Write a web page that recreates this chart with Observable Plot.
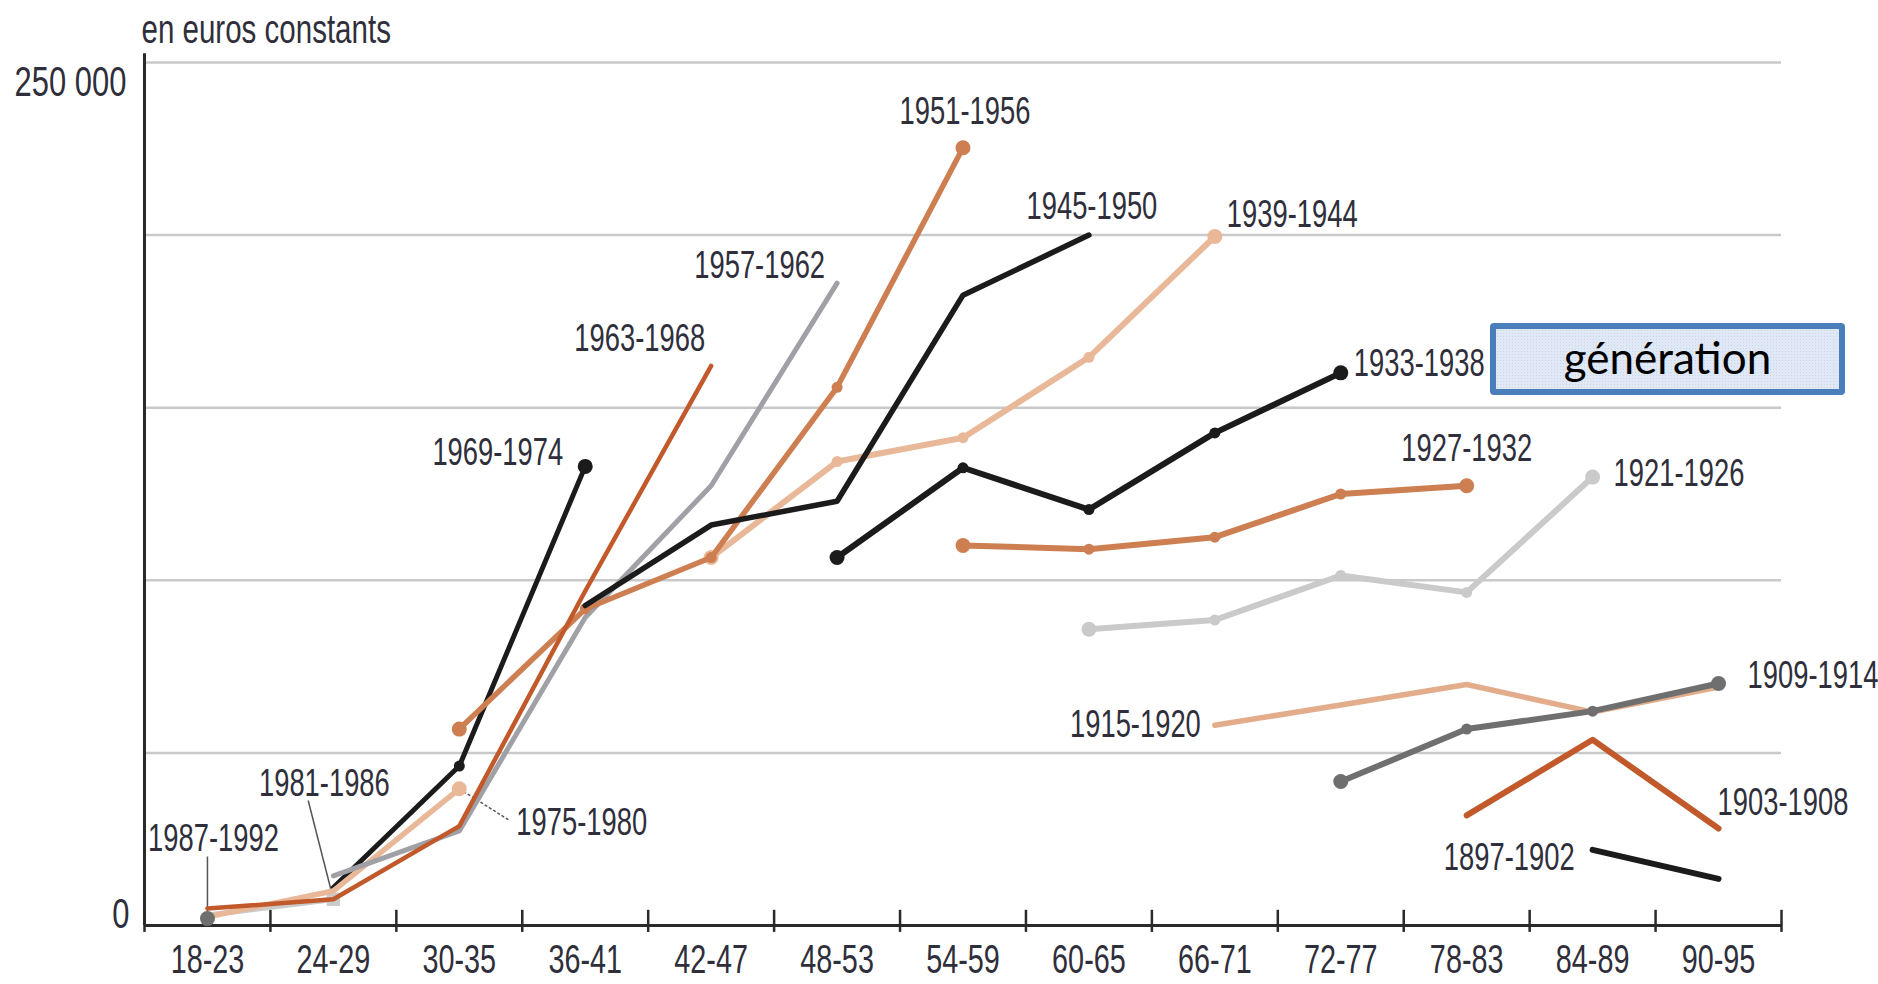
<!DOCTYPE html>
<html>
<head>
<meta charset="utf-8">
<script src="https://cdn.jsdelivr.net/npm/d3@7"></script>
<script src="https://cdn.jsdelivr.net/npm/@observablehq/plot@0.6"></script>
<style>
  html, body { margin: 0; padding: 0; background: #ffffff; }
  #wrap { position: relative; width: 1878px; height: 984px; overflow: hidden; }
  #gen {
    position: absolute; left: 1490px; top: 323px; width: 355px; height: 72px;
    box-sizing: border-box; border: 6px solid #4a7ebb; border-radius: 4px;
    background-color: #dfe8f4;
    background-image: radial-gradient(#c8d5ea 0.8px, transparent 1px);
    background-size: 3px 3px;
    font-family: Lato, "Open Sans", sans-serif; font-size: 44px; color: #000;
    display: flex; align-items: center; justify-content: center; line-height: 1;
    padding-bottom: 4px;
  }
</style>
</head>
<body>
<div id="wrap"><div id="chart"></div><div id="gen">génération</div></div>
<script>
// ---- Data ----
const _ = null;
const ages = ["18-23","24-29","30-35","36-41","42-47","48-53","54-59","60-65","66-71","72-77","78-83","84-89","90-95"];
const generations = ["1987-1992","1981-1986","1975-1980","1969-1974","1963-1968","1957-1962","1951-1956","1945-1950","1939-1944","1933-1938","1927-1932","1921-1926","1915-1920","1909-1914","1903-1908","1897-1902"];
// patrimoine moyen (euros constants), one value per age bracket
const g1987_1992 = [2000,_,_,_,_,_,_,_,_,_,_,_,_];
const g1981_1986 = [3000,7600,_,_,_,_,_,_,_,_,_,_,_];
const g1975_1980 = [2500,10000,39600,_,_,_,_,_,_,_,_,_,_];
const g1969_1974 = [_,11000,46200,133000,_,_,_,_,_,_,_,_,_];
const g1963_1968 = [4900,7600,28800,96900,162100,_,_,_,_,_,_,_,_];
const g1957_1962 = [_,14400,27400,89200,127400,186100,_,_,_,_,_,_,_];
const g1951_1956 = [_,_,56900,91700,106600,155900,225300,_,_,_,_,_,_];
const g1945_1950 = [_,_,_,92700,116000,122900,182600,200000,_,_,_,_,_];
const g1939_1944 = [_,_,_,_,106600,134400,141300,164600,199600,_,_,_,_];
const g1933_1938 = [_,_,_,_,_,106600,132600,120500,142700,160100,_,_,_];
const g1927_1932 = [_,_,_,_,_,_,110100,109000,112500,125000,127400,_,_];
const g1921_1926 = [_,_,_,_,_,_,_,85800,88500,101400,96500,129900,_];
const g1915_1920 = [_,_,_,_,_,_,_,_,58000,63900,69800,61800,69100];
const g1909_1914 = [_,_,_,_,_,_,_,_,_,41700,56900,62100,70100];
const g1903_1908 = [_,_,_,_,_,_,_,_,_,_,31900,53800,28100];
const g1897_1902 = [_,_,_,_,_,_,_,_,_,_,_,21900,13500];
const yTickValues = [0, 250000];
const yTickLabels = ["0", "250 000"];
const gridValues = [50000, 100000, 150000, 200000, 250000];
const unitLabel = "en euros constants";

const seriesValues = {
  "1987-1992": g1987_1992, "1981-1986": g1981_1986, "1975-1980": g1975_1980,
  "1969-1974": g1969_1974, "1963-1968": g1963_1968, "1957-1962": g1957_1962,
  "1951-1956": g1951_1956, "1945-1950": g1945_1950, "1939-1944": g1939_1944,
  "1933-1938": g1933_1938, "1927-1932": g1927_1932, "1921-1926": g1921_1926,
  "1915-1920": g1915_1920, "1909-1914": g1909_1914, "1903-1908": g1903_1908,
  "1897-1902": g1897_1902
};

// ---- Styles ----
const BLACK = "#1b1b1b", DARKGRAY = "#6f6f6f", MIDGRAY = "#a0a0a7", LIGHTGRAY = "#cacaca",
      RUST = "#c1592b", ORANGE = "#cd7f52", PEACH = "#e8b898", PEACH2 = "#e3ad8b";
const TEXT = "#2f2f3b";
const FONT = "'Liberation Sans', Arial, sans-serif";
const styles = {
  "1969-1974": {stroke: BLACK, w: 5, dotsFrom: 2},
  "1921-1926": {stroke: LIGHTGRAY, w: 6, dotsFrom: 0},
  "1981-1986": {stroke: LIGHTGRAY, w: 5.5, dotsFrom: 1, symbol: "square"},
  "1939-1944": {stroke: PEACH, w: 6, dotsFrom: 0},
  "1915-1920": {stroke: PEACH2, w: 5.5},
  "1975-1980": {stroke: PEACH, w: 5.5, dotsFrom: 2},
  "1957-1962": {stroke: MIDGRAY, w: 5},
  "1951-1956": {stroke: ORANGE, w: 5.5, dotsFrom: 2},
  "1927-1932": {stroke: ORANGE, w: 6, dotsFrom: 0},
  "1963-1968": {stroke: RUST, w: 4.5},
  "1903-1908": {stroke: RUST, w: 6},
  "1909-1914": {stroke: DARKGRAY, w: 6, dotsFrom: 0},
  "1987-1992": {stroke: DARKGRAY, w: 5, dotsFrom: 0},
  "1945-1950": {stroke: BLACK, w: 5.5},
  "1933-1938": {stroke: BLACK, w: 6, dotsFrom: 0},
  "1897-1902": {stroke: BLACK, w: 6}
};
const drawOrder = Object.keys(styles);

// label placement: anchored on first/last point of the series, with pixel offsets
const labelSpecs = [
  {gen: "1987-1992", at: "first", anchor: "middle", dx: 6, dy: -80},
  {gen: "1981-1986", at: "last", anchor: "middle", dx: -9, dy: -115},
  {gen: "1975-1980", at: "last", anchor: "start", dx: 57, dy: 34},
  {gen: "1969-1974", at: "last", anchor: "end", dx: -22, dy: -14},
  {gen: "1963-1968", at: "last", anchor: "end", dx: -6, dy: -27},
  {gen: "1957-1962", at: "last", anchor: "end", dx: -12, dy: -17},
  {gen: "1951-1956", at: "last", anchor: "middle", dx: 2, dy: -36},
  {gen: "1945-1950", at: "last", anchor: "middle", dx: 3, dy: -28},
  {gen: "1939-1944", at: "last", anchor: "start", dx: 12, dy: -22},
  {gen: "1933-1938", at: "last", anchor: "start", dx: 13, dy: -9},
  {gen: "1927-1932", at: "last", anchor: "middle", dx: 0, dy: -37},
  {gen: "1921-1926", at: "last", anchor: "start", dx: 21, dy: -3},
  {gen: "1915-1920", at: "first", anchor: "end", dx: -14, dy: 0},
  {gen: "1909-1914", at: "last", anchor: "start", dx: 29, dy: -8},
  {gen: "1903-1908", at: "last", anchor: "start", dx: -1, dy: -26},
  {gen: "1897-1902", at: "first", anchor: "end", dx: -18, dy: 8}
];
// leader lines: from a series point to a spot near its label (index, value units)
const leaders = [
  {gen: "1987-1992", at: "first", toX: 0.0, toY: 20000, dash: null},
  {gen: "1981-1986", at: "last", toX: 0.80, toY: 36200, dash: null},
  {gen: "1975-1980", at: "last", toX: 2.40, toY: 30400, dash: "3,2"}
];

// ---- Build rows ----
const rows = [];
for (const gen of generations) {
  seriesValues[gen].forEach((v, i) => { if (v != null) rows.push({gen, i, age: ages[i], value: v}); });
}
const rowsOf = (gen) => rows.filter(d => d.gen === gen);
const pointOf = (gen, at) => { const r = rowsOf(gen); return at === "first" ? r[0] : r[r.length - 1]; };

const marks = [];
// grid
marks.push(Plot.ruleY(gridValues, {stroke: "#c9c9c9", strokeWidth: 2.5}));
// axes lines
marks.push(Plot.ruleY([0], {stroke: "#2a2a2a", strokeWidth: 3}));
marks.push(Plot.ruleX([-0.5], {y1: 0, y2: 252500, stroke: "#2a2a2a", strokeWidth: 3}));
// x ticks at band boundaries
marks.push(Plot.ruleX(d3.range(ages.length + 1).map(i => i - 0.5), {y1: -2000, y2: 4400, stroke: "#2a2a2a", strokeWidth: 2.5}));
// x tick labels
marks.push(Plot.text(ages, {x: (d, i) => i, y: () => 0, text: d => d, dy: 35, fontSize: 40, lineAnchor: "middle", fill: TEXT, fontFamily: FONT}));
// y tick labels
marks.push(Plot.text([yTickValues[1]], {x: () => -0.5, y: d => d, text: () => yTickLabels[1], textAnchor: "end", lineAnchor: "middle", dx: -18, dy: 20, fontSize: 43, fill: TEXT, fontFamily: FONT}));
marks.push(Plot.text([yTickValues[0]], {x: () => -0.5, y: d => d, text: () => yTickLabels[0], textAnchor: "end", lineAnchor: "middle", dx: -15, dy: -11, fontSize: 43, fill: TEXT, fontFamily: FONT}));
// unit label
marks.push(Plot.text([unitLabel], {frameAnchor: "top-left", text: d => d, textAnchor: "start", lineAnchor: "middle", dx: -3, dy: -33, fontSize: 41, fill: TEXT, fontFamily: FONT}));

// leaders
for (const L of leaders) {
  const p = pointOf(L.gen, L.at);
  marks.push(Plot.link([p], {x1: "i", y1: "value", x2: () => L.toX, y2: () => L.toY, stroke: "#555", strokeWidth: 1.5, strokeDasharray: L.dash || undefined}));
}

// lines and dots
for (const gen of drawOrder) {
  const s = styles[gen];
  const r = rowsOf(gen);
  marks.push(Plot.line(r, {x: "i", y: "value", stroke: s.stroke, strokeWidth: s.w, strokeLinecap: "round", strokeLinejoin: "round"}));
  if (s.dotsFrom != null) {
    const dr = r.filter(d => d.i >= s.dotsFrom);
    const first = r[0], last = r[r.length - 1];
    marks.push(Plot.dot(dr, {x: "i", y: "value", fill: s.stroke, stroke: "none", symbol: s.symbol || "circle",
      r: d => (d === first || d === last) ? 7.5 : 5.5}));
  }
}

// series labels
for (const L of labelSpecs) {
  const p = pointOf(L.gen, L.at);
  marks.push(Plot.text([p], {x: "i", y: "value", text: d => d.gen, textAnchor: L.anchor, lineAnchor: "middle", dx: L.dx, dy: L.dy, fontSize: 38, fill: TEXT, fontFamily: FONT}));
}

const chart = Plot.plot({
  width: 1878, height: 984,
  marginLeft: 144, marginRight: 97, marginTop: 62, marginBottom: 59,
  x: {type: "linear", domain: [-0.5, ages.length - 0.5], axis: null},
  y: {domain: [0, 250000], axis: null},
  r: {type: "identity"},
  style: {background: "#ffffff", overflow: "visible"},
  marks
});
document.getElementById("chart").appendChild(chart);

// condensed lettering (narrow grotesque look)
chart.querySelectorAll("text").forEach(t => {
  let tr = t.getAttribute("transform");
  if (!tr) {
    const x = t.getAttribute("x") || 0, y = t.getAttribute("y") || 0;
    tr = `translate(${x},${y})`;
    t.removeAttribute("x"); t.removeAttribute("y");
  }
  t.setAttribute("transform", tr + " scale(0.72,1)");
});
</script>
</body>
</html>
